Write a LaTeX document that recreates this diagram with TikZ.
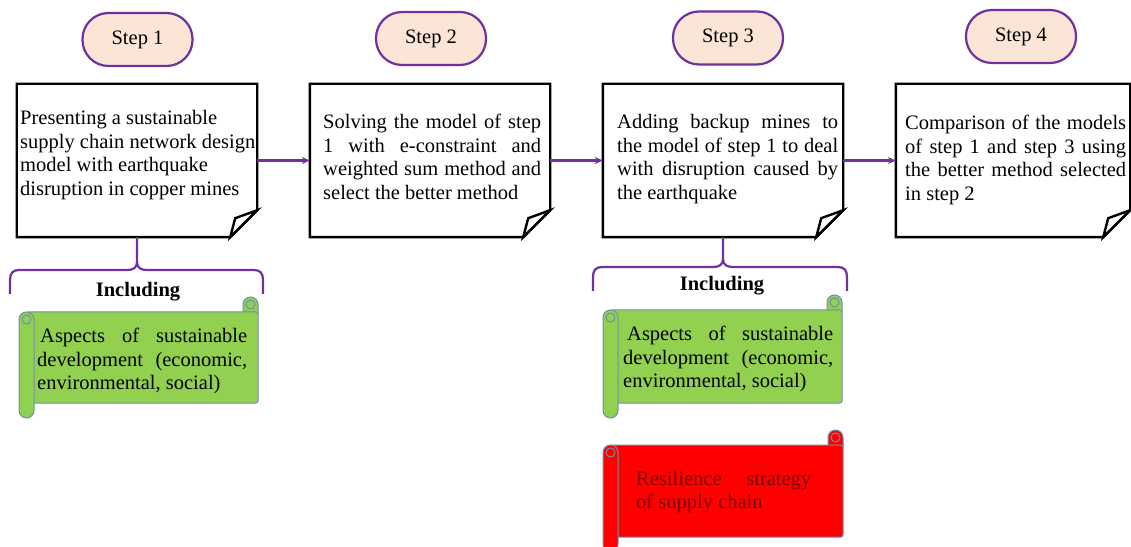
\documentclass[tikz,border=0pt]{standalone}
\usepackage{fontspec}
\setmainfont{Liberation Serif}
\usetikzlibrary{calc,arrows.meta}

\definecolor{flowpurple}{HTML}{7030A0}
\definecolor{pillfill}{HTML}{FBE5D6}
\definecolor{leafgreen}{HTML}{92D050}
\definecolor{alertred}{HTML}{FF0000}
\definecolor{darkredtext}{HTML}{7A0000}
\definecolor{scrolledgecol}{HTML}{6F8FAF}

% horizontal scroll banner: left, top, right, bottom, fill colour
\newcommand\scrollbanner[5]{%
  \draw[scrolledge, fill=#5, rounded corners=7.5bp] ({#3-15},#2) rectangle (#3,{#2+24});
  \draw[scrolledge, fill=#5, rounded corners=2bp] ({#1+7.5},{#2+15}) rectangle (#3,{#4-15});
  \draw[scrolledge, fill=#5, rounded corners=7.5bp] (#1,{#2+15}) rectangle ({#1+15},#4);
  \draw[scrolledge] ({#3-7.5},{#2+7.5}) circle[radius=4.5bp];
  \draw[scrolledge] ({#1+7.5},{#2+22.5}) circle[radius=4.5bp];
}

% page with a dog-eared bottom right corner, drawn round a named node
\newcommand\foldedpage[1]{%
  \draw[pageline] (#1.north west) -- (#1.north east) -- ($(#1.south east)+(0,-27)$)
     -- ($(#1.south east)+(-27,0)$) -- (#1.south west) -- cycle;
  \draw[pageline, fill=white] ($(#1.south east)+(0,-27)$) -- ($(#1.south east)+(-22,-19)$)
     -- ($(#1.south east)+(-27,0)$) -- cycle;
}

\begin{document}
\begin{tikzpicture}[x=1bp, y=-1bp,
  bodyfont/.style={font=\fontsize{20.5bp}{23.5bp}\selectfont},
  steppill/.style={bodyfont, draw=flowpurple, line width=2.2bp, fill=pillfill,
    rounded corners=26bp, minimum width=110bp, minimum height=53bp, inner sep=0pt},
  pagebox/.style={minimum height=153bp, inner sep=0pt},
  pageline/.style={line width=2.4bp, line join=miter, black},
  bodytext/.style={bodyfont, inner sep=0pt, anchor=base west},
  scrolledge/.style={draw=scrolledgecol, line width=1bp},
  bracepath/.style={draw=flowpurple, line width=2.2bp},
  flowarrow/.style={draw=flowpurple, line width=2.4bp, -{Stealth[length=8bp,width=7bp]}},
  labeltext/.style={font=\fontsize{20.5bp}{23.5bp}\selectfont\bfseries, inner sep=0pt, anchor=base}
]
\useasboundingbox (0,0) rectangle (1131,547);
\clip (0,0) rectangle (1131,547);
\fill[white] (0,0) rectangle (1131,547);

% step labels
\node[steppill] (s1) at (137.5,39.5) {Step 1};
\node[steppill] (s2) at (431,38.5) {Step 2};
\node[steppill] (s3) at (728,38) {Step 3};
\node[steppill] (s4) at (1021,36.5) {Step 4};

% step pages
\node[pagebox, minimum width=240bp] (b1) at (137,160.5) {};
\node[pagebox, minimum width=240bp] (b2) at (430,160.5) {};
\node[pagebox, minimum width=240bp] (b3) at (723,160.5) {};
\node[pagebox, minimum width=234bp] (b4) at (1013,160.5) {};
\foldedpage{b1}
\foldedpage{b2}
\foldedpage{b3}
\foldedpage{b4}

\node[bodytext, text width=245bp, align=flush left] (t1) at (20,125)
  {Presenting a sustainable\\ supply chain network design\\ model with earthquake\\ disruption in copper mines};
\node[bodytext, text width=218bp, align=justify] (t2) at (323,129)
  {Solving the model of step\linebreak 1 with e-constraint and\linebreak weighted sum method and\linebreak select the better method};
\node[bodytext, text width=221bp, align=justify] (t3) at (617,129)
  {Adding backup mines to\linebreak the model of step 1 to deal\linebreak with disruption caused by\linebreak the earthquake};
\node[bodytext, text width=221bp, align=justify] (t4) at (905,130)
  {Comparison of the models\linebreak of step 1 and step 3 using\linebreak the better method selected\linebreak in step 2};

% flow between steps
\draw[flowarrow] (b1.east) -- (b2.west);
\draw[flowarrow] (b2.east) -- (b3.west);
\draw[flowarrow] (b3.east) -- (b4.west);

% brackets under steps 1 and 3
\coordinate (k1) at (137,262);
\draw[bracepath] (b1.south) -- (k1) .. controls (137,268) and (133,270) .. (127,270)
   -- (19,270) .. controls (13,270) and (10,273) .. (10,280) -- (10,294);
\draw[bracepath] (k1) .. controls (137,268) and (141,270) .. (147,270)
   -- (254,270) .. controls (260,270) and (263,273) .. (263,280) -- (263,294);
\coordinate (k3) at (723,259);
\draw[bracepath] (b3.south) -- (k3) .. controls (723,265) and (719,267) .. (713,267)
   -- (602,267) .. controls (596,267) and (593,270) .. (593,277) -- (593,291);
\draw[bracepath] (k3) .. controls (723,265) and (727,267) .. (733,267)
   -- (838,267) .. controls (844,267) and (847,270) .. (847,277) -- (847,291);

\node[labeltext] (inc1) at (138,297) {Including};
\node[labeltext] (inc3) at (722,290.5) {Including};

% scroll banners
\scrollbanner{19}{297}{258}{418}{leafgreen}
\scrollbanner{603}{295}{842}{418}{leafgreen}
\scrollbanner{603}{430}{843}{552}{alertred}

\node[bodytext, text width=210bp, align=justify] (g1) at (37,343)
  {\hspace*{3bp}Aspects of sustainable\linebreak development (economic,\linebreak environmental, social)};
\node[bodytext, text width=210bp, align=justify] (g3) at (623,341)
  {\hspace*{4bp}Aspects of sustainable\linebreak development (economic,\linebreak environmental, social)};
\node[bodytext, text width=175bp, align=justify, text=darkredtext] (r3) at (636,485)
  {Resilience strategy\linebreak of supply chain};
\end{tikzpicture}
\end{document}
